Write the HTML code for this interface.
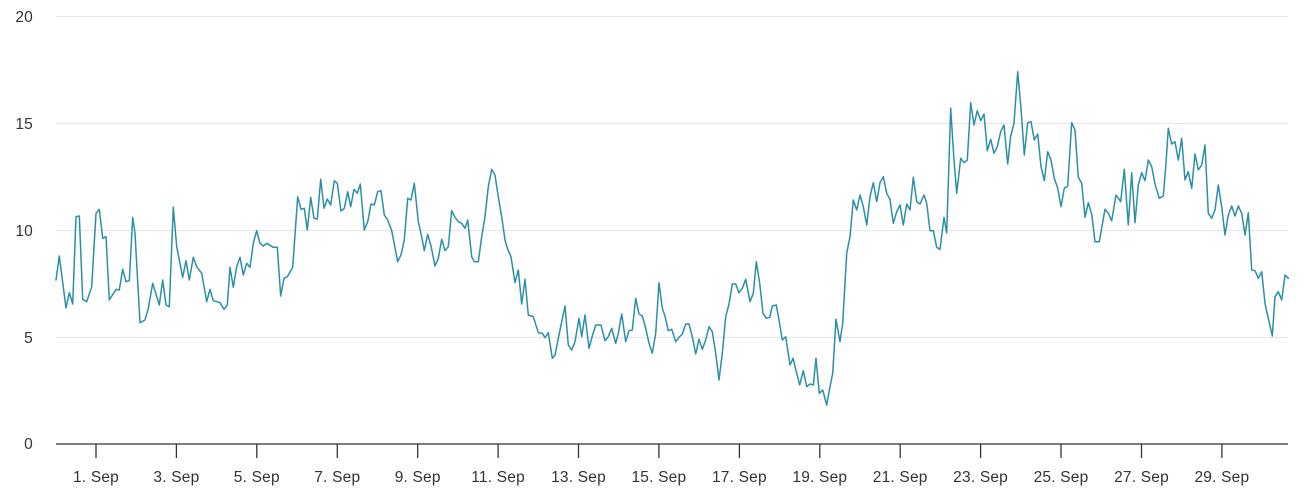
<!DOCTYPE html>
<html><head><meta charset="utf-8"><style>
html,body{margin:0;padding:0;background:#fff;}
svg{display:block;}
text{font-family:"Liberation Sans",sans-serif;font-size:15.5px;letter-spacing:0.2px;fill:#333;}
</style></head><body>
<svg width="1304" height="503" viewBox="0 0 1304 503" xmlns="http://www.w3.org/2000/svg">
<g stroke="#e6e6e6" stroke-width="1">
<line x1="56" y1="16.5" x2="1288" y2="16.5"/>
<line x1="56" y1="123.5" x2="1288" y2="123.5"/>
<line x1="56" y1="230.5" x2="1288" y2="230.5"/>
<line x1="56" y1="337.5" x2="1288" y2="337.5"/>
</g>
<g text-anchor="end">
<text x="33" y="22">20</text>
<text x="33" y="129">15</text>
<text x="33" y="236">10</text>
<text x="33" y="343">5</text>
<text x="33" y="449">0</text>
</g>
<line x1="56" y1="444" x2="1288" y2="444" stroke="#333" stroke-width="1.3"/>
<g stroke="#333" stroke-width="1.3">
<line x1="96" y1="444" x2="96" y2="458"/>
<line x1="176.4" y1="444" x2="176.4" y2="458"/>
<line x1="256.8" y1="444" x2="256.8" y2="458"/>
<line x1="337.3" y1="444" x2="337.3" y2="458"/>
<line x1="417.7" y1="444" x2="417.7" y2="458"/>
<line x1="498.1" y1="444" x2="498.1" y2="458"/>
<line x1="578.5" y1="444" x2="578.5" y2="458"/>
<line x1="658.9" y1="444" x2="658.9" y2="458"/>
<line x1="739.4" y1="444" x2="739.4" y2="458"/>
<line x1="819.8" y1="444" x2="819.8" y2="458"/>
<line x1="900.2" y1="444" x2="900.2" y2="458"/>
<line x1="980.6" y1="444" x2="980.6" y2="458"/>
<line x1="1061" y1="444" x2="1061" y2="458"/>
<line x1="1141.5" y1="444" x2="1141.5" y2="458"/>
<line x1="1221.9" y1="444" x2="1221.9" y2="458"/>
</g>
<g text-anchor="middle">
<text x="96" y="482">1. Sep</text>
<text x="176.4" y="482">3. Sep</text>
<text x="256.8" y="482">5. Sep</text>
<text x="337.3" y="482">7. Sep</text>
<text x="417.7" y="482">9. Sep</text>
<text x="498.1" y="482">11. Sep</text>
<text x="578.5" y="482">13. Sep</text>
<text x="658.9" y="482">15. Sep</text>
<text x="739.4" y="482">17. Sep</text>
<text x="819.8" y="482">19. Sep</text>
<text x="900.2" y="482">21. Sep</text>
<text x="980.6" y="482">23. Sep</text>
<text x="1061" y="482">25. Sep</text>
<text x="1141.5" y="482">27. Sep</text>
<text x="1221.9" y="482">29. Sep</text>
</g>
<polyline fill="none" stroke="#2b90a6" stroke-width="1.5" stroke-linejoin="round" stroke-linecap="round" points="
56,280 59.3,256 66,308 69.3,292.7 72.7,304 76,216.7 79.3,216 82.7,299.3 86.7,301.7 91.7,286.7 96,213.3 99.3,209.3 102.7,238.3 106,236.7 109.3,300 116,289.3 119.3,290 122.7,269.3 126,281.7 129.3,280.7 132.7,217.3 135,233.3 140,322.7 145,320 148.3,308.3 152.7,283.3 159.3,305 162.7,280 166,305 169.3,306.7 173.3,207.3 176.7,246.7 182.7,277.3 186,260.7 189.3,280 193.3,257.3 196.7,266.7 201.7,273.3 206.7,301.7 210,289.3 213.3,300.7 220,302.7 224,309.3 227.3,305 230,267.3 233.3,287.3 236.7,266.7 240,257.3 243.3,275 246.7,263.3 250,267.3 253.3,243.3 256.7,230.7 260,243.3 263.3,246 266.7,243.3 273.3,247.3 277.3,247.3 280.7,296 284,278.3 287.3,276.7 292.7,267.3 297.7,196.7 301,209.3 304.3,208.3 307.3,230 310.7,197.3 314,218.3 317.3,219 320.7,179.3 324,208.3 327.3,199 330.7,205 334.3,180.7 337.3,183.3 341,211 344.3,208.3 347.7,191.7 350.7,206.7 354,189.3 357.3,193.3 360.3,184 364.3,230 367.7,221.7 371,204 374.3,205 377.7,191.7 381,190.7 384.3,215 387.7,220 391.7,230.7 397.7,261.7 401,255 404.3,240 407.7,198.3 411,200 414.3,183.3 418.3,221.7 421.7,236.7 424.3,250.7 427.7,234.3 431,246 435,266 438.3,258.3 441.7,239.3 445,250.7 448.3,246.7 451.7,210.7 455,217.3 458.3,221.7 461.7,223.3 465,228.3 467.7,220 471.7,256.7 474.3,261.7 478.3,261.7 481.7,236.7 485,216.7 488.3,186.7 491.7,169.3 495,175 498.3,196.7 501.7,216.7 505,240 507.7,249.3 511,256.7 515,282.7 518.3,270 521.7,304 525,279.3 528.3,315 533.3,316.7 538.3,332.7 542.3,333.3 545,337.7 548.3,332.7 552.3,358.3 555,355 558.3,338.3 561.7,321.7 565,306 568.3,345 571.7,350 575,341.7 579,318.3 581.7,336.7 585,315 589,348.3 592.3,336 595.7,325 601,325 605,340.7 608.3,336.7 611.7,328.3 615.7,343.3 618.3,333.3 621.7,314 625.7,341.7 629,330.7 632.3,330 635.7,298.3 639,314 642.3,316 645.7,328.3 649,343.3 652.3,353.3 655.7,333.3 659,282.7 662.3,308.3 665,316 668.3,330.7 671.7,329.3 675.7,341.7 679,337.3 682.3,334 685.7,324 689,324 692.3,336.7 695.7,354 699,339.3 702.3,349.3 705.7,340 709,326.7 712.3,331.7 715.7,353.3 719,380 722.3,353.3 725.7,316.7 729,304 732.3,284 735.7,284 739,292.7 742.3,288.3 745.7,279.3 750,301.7 753.3,293.3 756.3,261.7 759.7,283.3 763,313.3 766.3,318.3 769.7,317.3 772.3,306 776.3,305 779,320 782.3,340 785.7,336.7 790,365 793,358.3 796.3,371.7 799.7,385 803.3,370.7 806.7,386.7 810,384 813.3,385 816,358.3 819.3,393.3 822.7,390 826.7,405 830,386.7 832.7,373.3 836,319.3 840,341.7 842.7,323.3 846.7,253.3 850,236.7 853.3,200 856.7,210 860,195 863.3,206.7 866.7,225 870,196.7 873.3,182.7 876.7,201.7 880,182.7 883.3,176.7 886.7,193.3 890,199.3 893.3,223.3 896.7,211.7 900,205 903.3,225 906.7,204 910,210 913.3,177.3 916.7,201.7 920,204 924,195 926.7,203.3 930,230.7 933.3,230.7 936.7,247.3 940,249.3 944,217.3 946.7,233 950.7,108.3 954,160 956.7,193.3 960.7,158.3 964,162.7 967.3,160 970.7,102.7 974,125 977.3,110.7 980.7,120.7 984,114 987.3,150.7 990.7,139.3 994,153.3 997.3,146.7 1000.7,131.7 1004,125 1007.7,164 1010.7,136 1014,123.3 1017.7,71.7 1021,108.3 1024.3,155 1027.7,122.7 1031,121.7 1034.3,140 1037.7,134 1041,166.7 1044.3,180.7 1047.7,151.7 1051,160 1054.3,178.3 1057.7,188.3 1061,206.7 1064.3,188.3 1067.7,186 1071.7,122.7 1075,130 1078.3,177.3 1081.7,183.3 1085,217.3 1088.3,202.7 1091.7,214 1095,241.7 1099.3,241.7 1105,209.3 1108.3,213.3 1111.7,220.7 1116,195 1120.7,201.7 1124.3,169.3 1128.3,225 1131.7,172.7 1135,222.7 1138.3,185 1141.7,172.7 1145,180.7 1148.3,160 1151.7,166.7 1155,184 1159.3,198.3 1163.3,196 1166,163.3 1168.3,128.3 1171.7,144 1175,141.7 1178.3,160 1181.7,138.3 1185,180 1188.3,171.7 1191.7,188.3 1195,154 1198.3,170 1201.7,165 1205,145 1208.3,213.3 1211.7,218.3 1215,210 1218.3,185 1221.7,206.7 1225,235 1228.3,215 1231.7,206 1235,216 1238.3,206 1241.7,213.3 1245,235 1248.3,212.7 1251.7,270 1255,270.7 1258.3,278.3 1261.7,271.7 1265,303.3 1268.3,318.3 1272.3,336 1275,296.7 1278.3,291.7 1281.7,300 1285,275 1288.3,278.3"/>
</svg>
</body></html>
